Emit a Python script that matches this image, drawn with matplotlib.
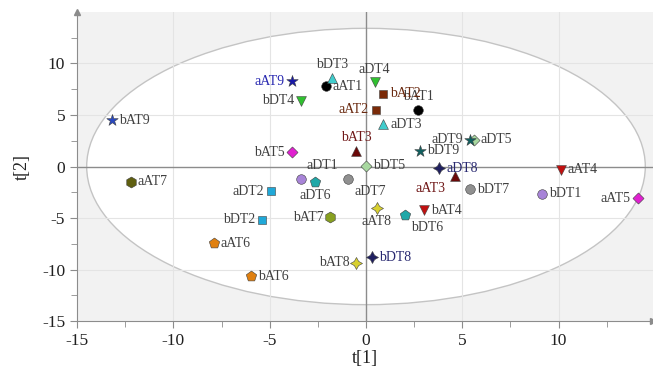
import numpy as np
import matplotlib.pyplot as plt
from matplotlib.patches import Ellipse

# score values
names = ['aAT1', 'bAT1', 'aAT2', 'bAT2', 'aAT3', 'bAT3', 'aAT4', 'bAT4',
         'aAT5', 'bAT5', 'aAT6', 'bAT6', 'aAT7', 'bAT7', 'aAT8', 'bAT8',
         'aAT9', 'bAT9',
         'aDT1', 'bDT1', 'aDT2', 'bDT2', 'aDT3', 'bDT3', 'aDT4', 'bDT4',
         'aDT5', 'bDT5', 'aDT6', 'bDT6', 'aDT7', 'bDT7', 'aDT8', 'bDT8',
         'aDT9', 'bDT9']
t1 = [-2.1, 2.7, 0.5, 0.9, 4.6, -0.5, 10.1, 3.0,
      14.1, -3.85, -7.9, -5.95, -12.2, -1.85, 0.55, -0.5,
      -3.85, -13.2,
      -3.35, 9.15, -4.95, -5.4, 0.9, -1.75, 0.45, -3.35,
      5.6, 0.0, -2.65, 2.0, -0.95, 5.4, 3.8, 0.3,
      5.4, 2.8]
t2 = [7.8, 5.45, 5.5, 7.05, -0.95, 1.5, -0.3, -4.25,
      -3.1, 1.4, -7.45, -10.65, -1.5, -4.9, -4.0, -9.35,
      8.25, 4.5,
      -1.25, -2.65, -2.4, -5.15, 4.1, 8.6, 8.15, 6.4,
      2.6, 0.05, -1.5, -4.7, -1.25, -2.2, -0.15, -8.8,
      2.6, 1.55]

# marker style per group (same for the a/b pair)
star4 = (4, 1, 0)
group_style = {
    'AT1': ('o', '#000000'), 'AT2': ('s', '#7a2a08'), 'AT3': ('^', '#6a0808'),
    'AT4': ('v', '#c01010'), 'AT5': ('D', '#e020d0'), 'AT6': ('p', '#e08010'),
    'AT7': ('h', '#5f5f10'), 'AT8': (star4, '#d8d030'), 'AT9': ('*', '#2848c0'),
    'DT1': ('o', '#a884d8'), 'DT2': ('s', '#20a8d8'), 'DT3': ('^', '#40cccc'),
    'DT4': ('v', '#30c030'), 'DT5': ('D', '#a8d8a0'), 'DT6': ('p', '#20a8a8'),
    'DT7': ('o', '#909090'), 'DT8': (star4, '#202060'), 'DT9': ('*', '#106060'),
}
marker_size = {'o': 48, 's': 40, '^': 50, 'v': 50, 'D': 32, 'p': 62, 'h': 62,
               '*': 75, star4: 75}
special_color = {'aAT7': '#5f5f10', 'bAT7': '#88a020', 'aAT9': '#1818a8'}
label_color = {'aAT9': '#2828b0', 'aDT8': '#282870', 'bDT8': '#282870',
               'aAT2': '#6a2a10', 'bAT2': '#6a2a10',
               'aAT3': '#701818', 'bAT3': '#701818'}

# label placement
place = {'bAT9': 'r', 'aAT9': 'l', 'bDT3': 'a', 'aAT1': 'r', 'aDT4': 'a',
         'bDT4': 'l', 'bAT2': 'r', 'bAT1': 'a', 'aAT2': 'l', 'aDT3': 'r',
         'bAT3': 'a', 'bAT5': 'l', 'bDT5': 'r', 'aDT9': 'l', 'aDT5': 'r',
         'bDT9': 'r', 'aDT8': 'r', 'aAT3': 'bl', 'aAT4': 'r', 'bDT7': 'r',
         'bDT1': 'r', 'aAT5': 'l', 'aDT2': 'l', 'bDT2': 'l', 'aAT6': 'r',
         'bAT6': 'r', 'aDT1': 'ar', 'aDT6': 'b', 'aDT7': 'br', 'aAT8': 'b',
         'bAT7': 'l', 'bDT6': 'br', 'bAT4': 'r', 'bDT8': 'r', 'bAT8': 'l',
         'aAT7': 'r'}
offsets = {'r': ((5, 0), 'left', 'center'), 'l': ((-5, 0), 'right', 'center'),
           'a': ((0, 5), 'center', 'bottom'), 'b': ((0, -5), 'center', 'top'),
           'bl': ((-17, -9), 'center', 'center'), 'ar': ((15, 10), 'center', 'center'),
           'br': ((16, -9), 'center', 'center')}

plt.rcParams['font.family'] = ['Liberation Serif', 'DejaVu Serif']
plt.rcParams['axes.unicode_minus'] = False

fig = plt.figure(figsize=(6.53, 3.70), dpi=100)
ax = fig.add_axes([0.118, 0.132, 0.882, 0.836])
ax.set_facecolor('#f2f2f2')
ax.set_xlim(-15, 14.9)
ax.set_ylim(-15, 15)

ax.add_patch(Ellipse((0, 0), 29.0, 26.8, facecolor='white', edgecolor='#c4c4c4',
                     lw=1.0, zorder=0.5))
for v in [-10, -5, 5, 10]:
    ax.axvline(v, color='#e4e4e4', lw=0.8, zorder=0.6)
    ax.axhline(v, color='#e4e4e4', lw=0.8, zorder=0.6)
ax.axvline(0, color='#8c8c8c', lw=1.0, zorder=0.7)
ax.axhline(0, color='#8c8c8c', lw=1.0, zorder=0.7)

for n, x, y in zip(names, t1, t2):
    m, c = group_style[n[1:]]
    c = special_color.get(n, c)
    ax.scatter(x, y, marker=m, s=marker_size[m],
               color=c, edgecolors='#404040', linewidths=0.4, zorder=3)
    (dx, dy), ha, va = offsets[place[n]]
    ax.annotate(n, (x, y), xytext=(dx, dy), textcoords='offset points',
                ha=ha, va=va, fontsize=10, color=label_color.get(n, '#404040'),
                zorder=4)

ax.spines['top'].set_visible(False)
ax.spines['right'].set_visible(False)
for s in ['left', 'bottom']:
    ax.spines[s].set_color('#8c8c8c')
ax.plot(0, 1, '^', transform=ax.transAxes, clip_on=False, color='#8c8c8c',
        markersize=5)
ax.plot(1, 0, '>', transform=ax.transAxes, clip_on=False, color='#8c8c8c',
        markersize=5)

ax.set_xticks([-15, -10, -5, 0, 5, 10])
ax.set_yticks([-15, -10, -5, 0, 5, 10])
ax.set_xticks(np.arange(-15, 15, 2.5), minor=True)
ax.set_yticks(np.arange(-15, 15, 2.5), minor=True)
ax.tick_params(which='both', color='#8c8c8c', labelsize=12.5, labelcolor='#202020')
ax.tick_params(which='major', length=5)
ax.tick_params(which='minor', length=4)

ax.set_xlabel('t[1]', fontsize=13, color='#202020', labelpad=1)
ax.set_ylabel('t[2]', fontsize=13, color='#202020', labelpad=8)

fig.savefig('out.png', dpi=100)
